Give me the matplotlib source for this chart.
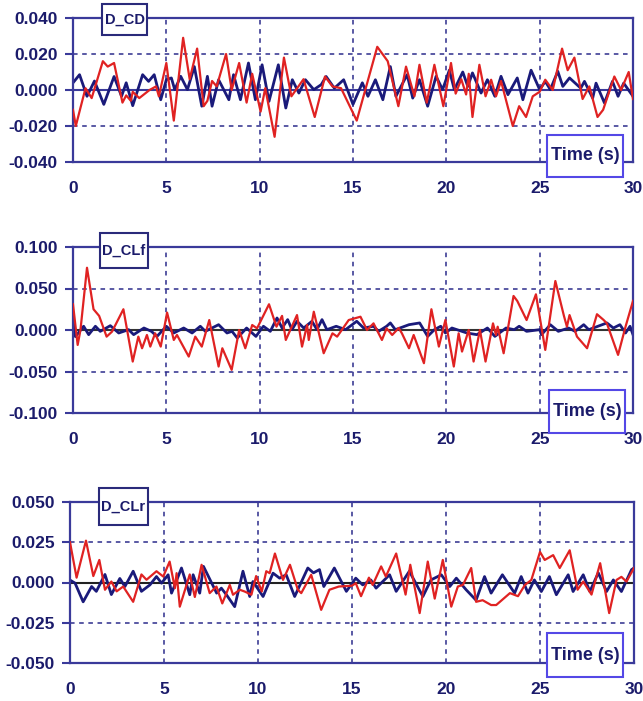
import matplotlib
matplotlib.use("Agg")
import matplotlib.pyplot as plt
from matplotlib.patches import Rectangle

plt.rcParams['font.family'] = ['Liberation Sans', 'DejaVu Sans']
plt.rcParams['font.weight'] = 'bold'
plt.rcParams['axes.unicode_minus'] = False

# ---- data (time s, value) ----
cd_red = [(0.0, -0.011), (0.15, -0.020), (0.67, 0.001), (1.0, -0.0045), (1.6, 0.016), (1.86, 0.013),
          (2.2, 0.015), (2.65, -0.007), (2.85, -0.003), (3.1, -0.006), (3.2, -0.001), (3.55, -0.0045),
          (4.1, 0.0), (4.45, 0.002), (4.6, -0.0035), (5.0, 0.015), (5.4, -0.017), (5.9, 0.029),
          (6.25, 0.006), (6.65, 0.023), (7.0, -0.009), (7.2, -0.006), (7.45, 0.005), (7.7, 0.002),
          (8.2, 0.020), (8.5, 0.0), (8.9, 0.015), (9.3, -0.007), (9.6, 0.009), (10.05, -0.012),
          (10.3, 0.001), (10.8, -0.026), (11.3, 0.018), (11.7, -0.0035), (12.35, 0.006), (12.95, -0.015),
          (13.5, 0.0075), (13.9, 0.002), (14.36, 0.001), (15.2, -0.017), (16.3, 0.024), (16.86, 0.016),
          (17.43, -0.009), (17.84, 0.013), (18.29, -0.0035), (18.56, 0.014), (18.95, -0.007), (19.36, 0.014),
          (19.84, -0.009), (20.25, 0.015), (20.5, -0.002), (20.8, 0.006), (21.06, -0.0025), (21.2, 0.009),
          (21.4, -0.015), (21.77, 0.014), (22.1, -0.0035), (22.4, 0.0057), (22.66, -0.0035), (22.93, 0.005),
          (23.56, -0.020), (23.9, -0.009), (24.27, -0.015), (24.63, -0.0035), (25.0, -0.001), (25.3, 0.0057),
          (25.7, 0.0), (26.2, 0.023), (26.5, 0.011), (26.86, 0.018), (27.3, -0.005), (27.66, 0.002),
          (28.1, -0.015), (28.4, -0.011), (29.0, 0.0075), (29.36, 0.0), (29.77, 0.010), (30.0, -0.005)]
cd_navy = [(0.0, 0.004), (0.35, 0.0085), (0.75, -0.0035), (1.15, 0.005), (1.65, -0.008), (2.2, 0.0075),
           (2.6, -0.0035), (2.85, 0.004), (3.2, -0.0087), (3.73, 0.0085), (4.05, 0.0048), (4.35, 0.0085),
           (4.7, -0.0054), (5.0, 0.0057), (5.27, 0.0067), (5.45, 0.0002), (5.77, 0.0076), (6.13, 0.0002),
           (6.5, 0.013), (6.9, -0.009), (7.2, 0.0076), (7.45, -0.009), (7.8, 0.0057), (8.35, -0.0054),
           (8.6, 0.0085), (8.97, -0.0054), (9.4, 0.015), (9.77, -0.0054), (10.13, 0.014), (10.5, -0.0063),
           (11.0, 0.014), (11.4, -0.010), (11.75, 0.0057), (12.1, -0.0017), (12.45, 0.0057), (12.9, 0.0002),
           (13.3, 0.003), (13.56, 0.0075), (14.0, 0.001), (14.5, 0.0057), (15.0, -0.008), (15.5, 0.004),
           (15.8, -0.0035), (16.2, 0.0057), (16.6, -0.0054), (17.0, 0.013), (17.3, -0.0035), (17.9, 0.0085),
           (18.2, -0.0045), (18.56, 0.0057), (19.0, -0.009), (19.45, 0.0076), (19.8, 0.0002), (20.16, 0.011),
           (20.43, 0.0002), (20.88, 0.010), (21.15, 0.002), (21.4, 0.0095), (21.86, -0.0017), (22.2, 0.0057),
           (22.6, -0.0035), (22.93, 0.0076), (23.3, -0.0026), (23.8, 0.0067), (24.1, -0.0054), (24.54, 0.011),
           (25.0, 0.0002), (25.3, 0.0048), (25.57, 0.0002), (25.97, 0.0104), (26.24, 0.002), (26.6, 0.0067),
           (27.2, 0.001), (27.4, 0.0048), (27.84, -0.0045), (28.02, 0.0038), (28.47, -0.0072), (28.9, 0.0048),
           (29.2, -0.0035), (29.5, 0.0038), (30.0, -0.0035)]

clf_red = [(0.0, 0.031), (0.25, -0.018), (0.4, 0.0), (0.75, 0.075), (1.1, 0.025), (1.4, 0.017),
           (1.8, -0.008), (2.09, -0.002), (2.7, 0.025), (3.2, -0.038), (3.5, -0.008), (3.7, -0.022),
           (3.96, -0.006), (4.14, -0.020), (4.4, -0.004), (4.7, -0.020), (5.04, 0.021), (5.4, -0.012),
           (5.57, -0.006), (6.2, -0.032), (6.55, -0.008), (6.9, -0.020), (7.3, 0.012), (7.8, -0.044),
           (8.0, -0.022), (8.5, -0.048), (8.9, 0.0), (9.23, -0.022), (9.6, 0.006), (9.86, 0.002),
           (10.5, 0.031), (10.9, 0.004), (11.2, 0.017), (11.4, -0.012), (12.0, 0.018), (12.27, -0.020),
           (12.54, 0.006), (12.63, -0.012), (12.9, 0.022), (13.43, -0.028), (13.9, -0.004), (14.15, -0.008),
           (14.77, 0.012), (15.4, 0.016), (15.75, 0.0), (16.1, 0.008), (16.55, -0.012), (16.8, 0.002),
           (17.1, -0.006), (17.45, 0.0024), (17.62, -0.004), (18.0, -0.022), (18.25, -0.006), (18.8, -0.040),
           (19.2, 0.025), (19.6, -0.020), (19.95, 0.012), (20.4, -0.044), (20.66, -0.004), (20.84, -0.026),
           (21.2, 0.0), (21.46, -0.038), (21.8, 0.0), (22.1, -0.038), (22.5, 0.008), (22.66, -0.006),
           (22.75, 0.004), (23.07, -0.028), (23.6, 0.041), (23.8, 0.035), (24.3, 0.012), (24.8, 0.043),
           (25.3, -0.024), (25.84, 0.059), (26.3, 0.017), (26.46, 0.004), (26.6, 0.018), (27.0, -0.008),
           (27.54, -0.022), (28.07, 0.019), (28.43, 0.012), (28.6, 0.008), (29.2, -0.030), (29.6, 0.004),
           (30.0, 0.035)]
clf_navy = [(0.0, 0.012), (0.13, -0.008), (0.57, 0.0045), (0.84, -0.0056), (1.2, 0.0045), (1.46, -0.0016),
            (2.0, 0.0052), (2.45, -0.0036), (2.98, 0.0004), (3.25, -0.0056), (3.8, 0.0024), (4.2, -0.0016),
            (4.5, -0.0077), (5.0, 0.0045), (5.4, -0.0036), (5.93, 0.0024), (6.38, -0.0036), (6.82, 0.0045),
            (7.09, -0.0016), (7.8, 0.0064), (8.25, -0.0036), (8.52, -0.0016), (8.8, -0.0097), (9.3, 0.0024),
            (9.8, -0.0077), (10.2, 0.0045), (10.57, -0.0016), (10.93, 0.0145), (11.2, 0.0024), (11.5, 0.0125),
            (11.73, 0.0004), (12.0, 0.0105), (12.36, 0.0024), (12.8, 0.0105), (13.07, 0.0004), (13.34, 0.0125),
            (13.6, 0.0004), (14.1, 0.0045), (14.6, 0.0004), (15.2, 0.0105), (15.57, 0.0024), (16.1, 0.0045),
            (16.37, -0.0016), (16.8, 0.0045), (17.0, 0.0085), (17.27, 0.0004), (18.0, 0.0064), (18.57, 0.0085),
            (19.0, -0.0077), (19.36, 0.0004), (19.7, 0.0045), (19.95, -0.0036), (20.3, 0.0024), (21.1, -0.0036),
            (21.64, -0.0056), (22.2, 0.0024), (22.6, -0.0077), (23.2, 0.0024), (23.64, 0.0004), (23.9, 0.0045),
            (24.3, -0.0016), (25.0, 0.0004), (25.1, -0.0056), (25.57, 0.0064), (26.0, -0.0016), (26.55, 0.0024),
            (26.9, -0.0016), (27.36, 0.0064), (27.63, 0.0004), (28.6, 0.0085), (28.95, 0.0024), (29.3, 0.0064),
            (29.6, -0.0036), (29.84, 0.0045), (30.0, -0.0056)]

clr_red = [(0.0, 0.025), (0.35, 0.003), (0.85, 0.026), (1.24, 0.004), (1.56, 0.014), (1.86, -0.0045),
           (2.2, 0.0006), (2.48, -0.0055), (2.83, -0.0025), (3.36, -0.012), (3.8, 0.005), (4.07, 0.0017),
           (4.6, 0.007), (4.96, 0.0037), (5.3, 0.013), (5.58, -0.0035), (5.67, 0.0058), (5.84, -0.015),
           (6.37, 0.005), (6.64, -0.009), (7.0, 0.011), (7.43, -0.0066), (7.79, -0.0025), (8.1, -0.013),
           (8.5, -0.0015), (8.67, -0.0076), (9.03, -0.0045), (9.29, -0.0056), (9.65, -0.0076), (9.9, 0.004),
           (10.2, -0.0056), (10.44, 0.007), (10.62, 0.0058), (10.9, 0.018), (11.33, 0.0016), (11.7, 0.011),
           (12.12, -0.0045), (12.3, -0.0066), (12.83, 0.0048), (13.36, -0.017), (13.8, -0.0045), (14.3, -0.0025),
           (15.0, -0.002), (15.2, -0.0004), (15.48, -0.0085), (15.9, 0.003), (16.1, -0.0015), (16.55, 0.010),
           (16.8, 0.0037), (17.35, 0.018), (17.85, -0.0075), (18.1, 0.011), (18.6, -0.019), (19.03, 0.013),
           (19.4, -0.010), (19.83, 0.014), (20.28, -0.015), (20.63, -0.0025), (20.9, -0.0015), (21.34, 0.009),
           (21.6, -0.012), (21.95, -0.011), (22.4, -0.014), (22.67, -0.014), (23.4, -0.0066), (23.83, -0.0085),
           (24.2, -0.0015), (24.54, 0.0016), (25.0, 0.019), (25.25, 0.014), (25.7, 0.017), (26.05, 0.009),
           (26.58, 0.020), (27.0, -0.0045), (27.3, 0.0006), (27.74, -0.0075), (28.2, 0.012), (28.68, -0.019),
           (29.07, 0.0016), (29.33, 0.0035), (29.6, 0.0006), (30.0, 0.009)]
clr_navy = [(0.0, 0.0015), (0.27, -0.0004), (0.7, -0.012), (1.15, -0.0025), (1.4, -0.0055), (1.86, 0.005),
            (2.2, -0.0075), (2.65, 0.0025), (2.92, -0.0025), (3.36, 0.007), (3.8, -0.0055), (4.25, -0.0015),
            (4.6, 0.0037), (4.87, -0.0004), (5.22, 0.0048), (5.4, -0.0066), (5.58, -0.0015), (5.93, 0.009),
            (6.37, -0.0076), (6.55, 0.0048), (6.9, -0.0066), (7.1, 0.010), (7.8, -0.0066), (8.05, -0.0035),
            (8.32, -0.0076), (8.76, -0.015), (9.2, 0.007), (9.56, -0.0087), (9.73, 0.0006), (10.27, -0.0087),
            (10.8, 0.0058), (11.15, 0.0027), (11.5, 0.0048), (11.95, -0.0087), (12.65, 0.009), (12.95, 0.006),
            (13.27, 0.008), (13.5, -0.0025), (14.06, 0.009), (14.7, -0.0055), (15.2, 0.0027), (15.57, -0.0015),
            (16.0, 0.0016), (16.28, -0.0035), (17.0, 0.0048), (17.35, -0.0055), (18.05, 0.007), (18.77, -0.0087),
            (19.2, 0.0016), (19.75, 0.0048), (20.2, -0.0025), (20.55, 0.0027), (21.07, -0.0045), (21.6, -0.011),
            (22.05, 0.0037), (22.4, -0.0066), (23.0, 0.0048), (23.65, -0.0066), (24.0, 0.0037), (24.36, -0.0066),
            (24.7, 0.0016), (25.07, -0.0056), (25.5, 0.0037), (25.87, -0.0076), (26.5, 0.0048), (26.76, -0.0056),
            (27.3, 0.0048), (27.65, -0.0056), (28.1, 0.006), (28.54, -0.0056), (28.9, 0.0016), (29.33, -0.0056),
            (29.87, 0.008), (30.0, 0.009)]

xticks = [0, 5, 10, 15, 20, 25, 30]
cd_yticks = [-0.04, -0.02, 0.0, 0.02, 0.04]
cd_ylabels = ['-0.040', '-0.020', '0.000', '0.020', '0.040']
clf_yticks = [-0.1, -0.05, 0.0, 0.05, 0.1]
clf_ylabels = ['-0.100', '-0.050', '0.000', '0.050', '0.100']
clr_yticks = [-0.05, -0.025, 0.0, 0.025, 0.05]
clr_ylabels = ['-0.050', '-0.025', '0.000', '0.025', '0.050']

TXT = '#1b1b6b'
SPINE = '#3a3a9a'
GRID = '#2c2c8c'
RED = '#e02222'
NAVY = '#1a1a7a'
TBOX = '#5448e6'

W, H = 643, 701
fig = plt.figure(figsize=(W / 100, H / 100), dpi=100)


def fig_rect(x0, y0, x1, y1):
    # pixel box (top-left origin) -> figure fraction [l, b, w, h]
    return [x0 / W, 1 - y1 / H, (x1 - x0) / W, (y1 - y0) / H]


def boxed_label(text, x0, y0, x1, y1, edge, size):
    l, b, w, h = fig_rect(x0, y0, x1, y1)
    fig.add_artist(Rectangle((l, b), w, h, transform=fig.transFigure,
                             facecolor='white', edgecolor=edge, lw=1.5, zorder=5))
    fig.text(l + w / 2, b + h / 2, text, ha='center', va='center', color=TXT,
             fontsize=size, fontweight='bold', zorder=6)


panels = [
    ('D_CD', cd_red, cd_navy, cd_yticks, cd_ylabels, (73, 18, 633, 162), SPINE,
     (102, 4, 147, 35), (547, 135, 623, 177)),
    ('D_CLf', clf_red, clf_navy, clf_yticks, clf_ylabels, (73, 247, 633, 413), '#333333',
     (100, 233, 148, 268), (549, 390, 625, 433)),
    ('D_CLr', clr_red, clr_navy, clr_yticks, clr_ylabels, (70, 502, 634, 663), '#222222',
     (99, 488, 148, 525), (547, 633, 623, 677)),
]

for name, red, navy, yt, yl, box, zcol, nbox, tbox in panels:
    ax = fig.add_axes(fig_rect(*box))
    ax.set_xlim(0, 30)
    ax.set_ylim(yt[0], yt[-1])
    ax.set_xticks(xticks)
    ax.set_xticklabels([str(v) for v in xticks])
    ax.set_yticks(yt)
    ax.set_yticklabels(yl)
    ax.set_axisbelow(True)
    ax.grid(True, color=GRID, lw=1.1, ls=(0, (3, 3)))
    ax.axhline(0, color=zcol, lw=1.5, zorder=1.5)
    ax.plot([p[0] for p in navy], [p[1] for p in navy], color=NAVY, lw=2.0, zorder=2)
    ax.plot([p[0] for p in red], [p[1] for p in red], color=RED, lw=1.6, zorder=3)
    for s in ax.spines.values():
        s.set_color(SPINE)
        s.set_linewidth(1.6)
    ax.tick_params(axis='y', direction='out', length=6, width=1.5, color=SPINE,
                   pad=5, labelsize=12.5, labelcolor=TXT)
    ax.tick_params(axis='x', length=0, pad=14, labelsize=12.5, labelcolor=TXT)
    boxed_label(name, *nbox, edge='#2a2a7a', size=10.5)
    boxed_label('Time (s)', *tbox, edge=TBOX, size=13)

fig.savefig('out.png', dpi=100)
